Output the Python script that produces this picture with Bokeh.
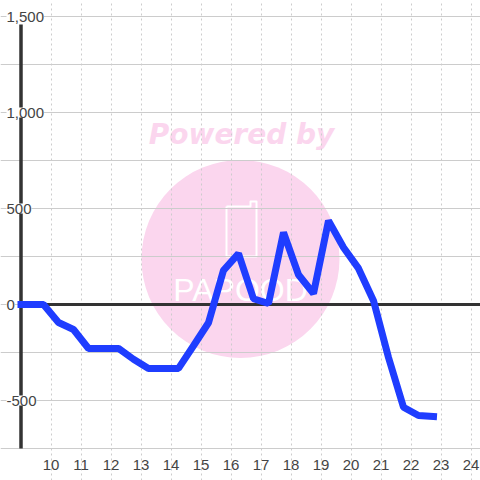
from bokeh.plotting import figure
from bokeh.embed import file_html
from bokeh.resources import INLINE
from bokeh.models import Range1d, LinearAxis, Grid, FixedTicker
from bokeh.core.properties import value

hours = [9.0, 9.75, 10.25, 10.75, 11.25, 11.75, 12.25, 12.75, 13.25, 13.75, 14.25, 14.75,
         15.25, 15.75, 16.25, 16.75, 17.25, 17.75, 18.25, 18.75, 19.25, 19.75, 20.25,
         20.75, 21.25, 21.75, 22.25, 22.75]
values = [0, 0, -94, -130, -229, -229, -229, -285, -333, -333, -333, -215,
          -95, 178, 265, 30, 5, 375, 155, 57, 437, 297, 188,
          20, -276, -535, -578, -583]
x_ticks = list(range(10, 25))
y_ticks = [-500, 0, 500, 1000, 1500]
y_minor = [-750, -500, -250, 0, 250, 500, 750, 1000, 1250, 1500]
y_labels = ["-500", "0", "500", "1,000", "1,500"]

FONT = "Liberation Sans"
GREY = "#cccccc"
DARK = "#333333"
PINK = "#fbd6ee"

x0 = 9 - 20.5 / 30
y1 = 304 / 0.192
p = figure(width=480, height=480, output_backend="svg", toolbar_location=None,
           x_range=Range1d(x0, x0 + 16), y_range=Range1d(y1 - 480 / 0.192, y1),
           x_axis_type=None, y_axis_type=None, min_border=0, outline_line_color=None,
           background_fill_color="white", border_fill_color="white")
p.styles = {"position": "absolute", "left": "0px", "top": "0px"}

def sx(v):
    return 9 + (v - 20.5) / 30

def sy(v):
    return (304 - v) / 0.192

# watermark (behind the grid)
p.scatter([sx(240)], [sy(258.5)], marker="circle", size=198, fill_color=PINK, line_color=None, level="image")
p.text([sx(241)], [sy(134)], text=["Powered by"], text_font=value("DejaVu Sans"),
       text_font_style="bold italic", text_font_size="28px", text_color=PINK,
       text_align="center", text_baseline="middle", level="image")
p.text([sx(240)], [sy(289)], text=["PAPOOD"], text_font=value("Liberation Sans"),
       text_font_size="32px", text_color="white", text_align="center", text_baseline="middle",
       level="image")
icon_x = [226, 250, 250, 256, 256, 226, 226]
icon_y = [206, 206, 201, 201, 256, 256, 206]
p.line([sx(v) for v in icon_x], [sy(v) for v in icon_y], line_color="white", line_width=2,
       line_join="round", level="image")

# grids
xg = Grid(dimension=0, ticker=FixedTicker(ticks=x_ticks), bounds=(-750, 1500),
          grid_line_color=GREY, grid_line_width=1, grid_line_dash="2 3")
yg = Grid(dimension=1, ticker=FixedTicker(ticks=y_minor), bounds=(9, x0 + 16),
          grid_line_color=GREY, grid_line_width=1)
p.add_layout(xg)
p.add_layout(yg)

# bottom axis
ax = LinearAxis(ticker=FixedTicker(ticks=x_ticks), fixed_location=-750,
                axis_line_color=None, major_tick_line_color=None, minor_tick_line_color=None,
                major_label_text_font=FONT, major_label_text_font_size="15px",
                major_label_text_color="#444444", major_label_standoff=5)
p.add_layout(ax, "below")

# zero line and y axis line
p.segment([9], [0], [x0 + 16], [0], line_color=DARK, line_width=3)
p.segment([9], [-750], [9], [1458], line_color=DARK, line_width=3.5)

# y labels on white
p.text([sx(6)] * len(y_ticks), y_ticks, text=y_labels, text_font=value(FONT),
       text_font_size="15px", text_color="#444444", text_align="left", text_baseline="middle",
       background_fill_color="white", y_offset=0)

# series
p.line(hours, values, line_color="#1f3dff", line_width=7, line_join="bevel", line_cap="square")

open("out.html", "w").write(file_html(p, INLINE))
